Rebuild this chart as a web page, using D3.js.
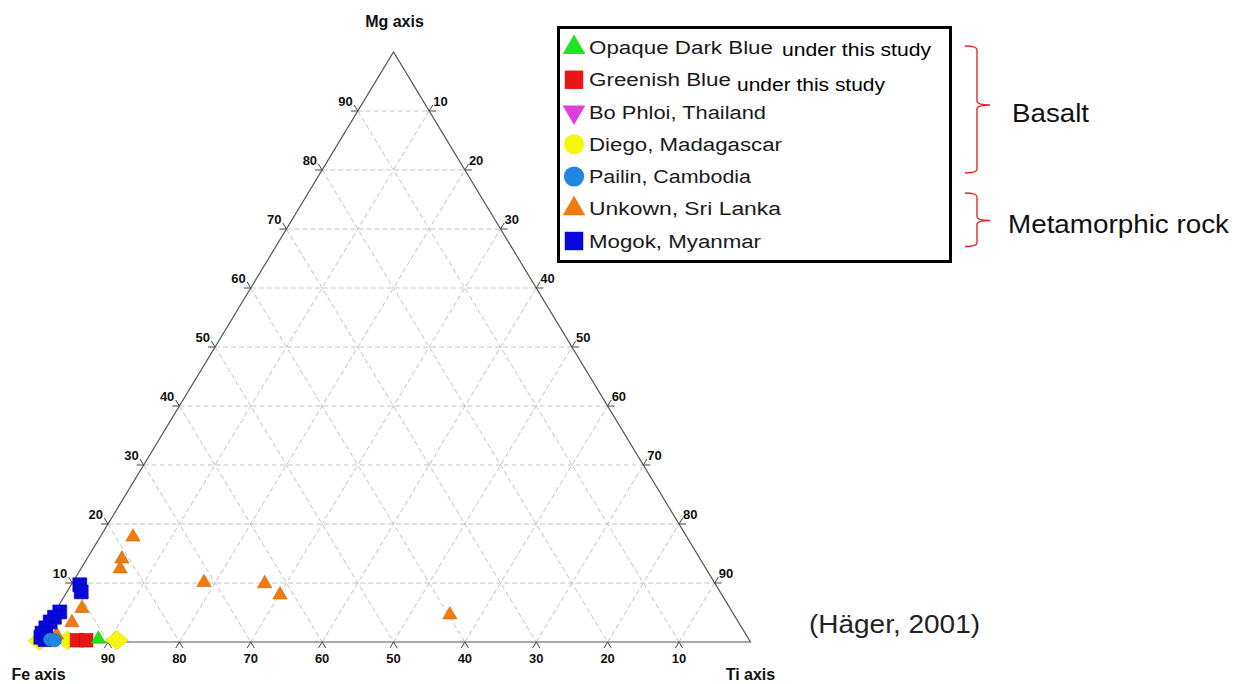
<!DOCTYPE html>
<html>
<head>
<meta charset="utf-8">
<script src="https://cdn.jsdelivr.net/npm/d3@7"></script>
<style>
  body { margin: 0; background: #fff; }
  svg { display: block; }
</style>
</head>
<body>
<svg id="chart" width="1248" height="684"></svg>
<script>
// Sample compositions, each as [Fe, Mg, Ti] in percent
const opaqueDarkBlue = [[91.1, 0.5, 8.4]];
const greenishBlue   = [[94.2, 0.3, 5.5], [92.9, 0.3, 6.8]];
const boPhloi        = [[97.9, 0.6, 1.5]];
const diego          = [[99.5, 0.2, 0.3], [95.5, 0.3, 4.2], [88.6, 0.3, 11.1]];
const pailin         = [[97.9, 0.4, 1.7], [97.3, 0.3, 2.4]];
const sriLanka       = [[77.6, 17.8, 4.6], [81.0, 14.1, 4.9], [82.1, 12.4, 5.5],
                        [71.5, 10.1, 18.4], [63.1, 9.9, 27.0], [61.9, 8.0, 30.1],
                        [39.8, 4.6, 55.6], [90.8, 5.7, 3.5], [93.4, 3.3, 3.3],
                        [96.6, 1.2, 2.2]];
const mogok          = [[89.1, 9.7, 1.2], [89.5, 8.5, 2.0], [94.2, 5.1, 0.7],
                        [95.4, 4.2, 0.4], [96.4, 3.4, 0.2], [97.5, 2.4, 0.1],
                        [98.5, 1.5, 0.0], [99.0, 0.8, 0.2], [98.6, 0.4, 1.0]];

const gridValues = [10, 20, 30, 40, 50, 60, 70, 80, 90];
const axisTitles = ["Fe axis", "Mg axis", "Ti axis"];

const legendLabels = ["Opaque Dark Blue", "Greenish Blue", "Bo Phloi, Thailand",
                      "Diego, Madagascar", "Pailin, Cambodia", "Unkown, Sri Lanka",
                      "Mogok, Myanmar"];
const legendNotes  = ["under this study", "under this study"];
const groupLabels  = ["Basalt", "Metamorphic rock"];
const sourceNote   = "(Häger, 2001)";

const svg = d3.select("#chart");

// Ternary layout: Mg drives the height, Ti (plus half of Mg) the horizontal offset
const yMg = d3.scaleLinear().domain([0, 100]).range([642, 52]);
const xBase = d3.scaleLinear().domain([0, 100]).range([36.6, 750.4]);
const project = ([fe, mg, ti]) => [xBase(ti + mg / 2), yMg(mg)];

const gGrid = svg.append("g");
const dashed = { stroke: "#c2c2c2", "stroke-width": 1, "stroke-dasharray": "5,3" };

function seg(g, a, b, attrs) {
  const p = project(a), q = project(b);
  const l = g.append("line").attr("x1", p[0]).attr("y1", p[1]).attr("x2", q[0]).attr("y2", q[1]);
  Object.entries(attrs).forEach(([k, v]) => l.attr(k, v));
  return l;
}

// Dashed grid lines parallel to each side
gridValues.forEach(v => {
  seg(gGrid, [100 - v, v, 0], [0, v, 100 - v], dashed);      // constant Mg
  seg(gGrid, [100 - v, 0, v], [0, 100 - v, v], dashed);      // constant Ti
  seg(gGrid, [v, 100 - v, 0], [v, 0, 100 - v], dashed);      // constant Fe
});

// Triangle outline
const corners = [[100, 0, 0], [0, 100, 0], [0, 0, 100]].map(project);
svg.append("path")
  .attr("d", d3.line()(corners) + "Z")
  .attr("fill", "none").attr("stroke", "#555").attr("stroke-width", 1.2);

// Tick marks: short outward extensions of the grid lines meeting each side
const tickLen = 7;
const gTicks = svg.append("g").attr("stroke", "#444").attr("stroke-width", 1);
function tickFrom(pt, toward) {
  const p = project(pt), q = project(toward);
  const dx = p[0] - q[0], dy = p[1] - q[1], d = Math.hypot(dx, dy);
  gTicks.append("line")
    .attr("x1", p[0]).attr("y1", p[1])
    .attr("x2", p[0] + dx / d * tickLen).attr("y2", p[1] + dy / d * tickLen);
}
gridValues.forEach(v => {
  // left side (Mg scale)
  tickFrom([100 - v, v, 0], [0, v, 100 - v]);
  tickFrom([100 - v, v, 0], [100 - v, 0, v]);
  // right side (Ti scale)
  tickFrom([0, 100 - v, v], [100 - v, 0, v]);
  tickFrom([0, 100 - v, v], [v, 100 - v, 0]);
  // base (Fe scale)
  tickFrom([v, 0, 100 - v], [v, 100 - v, 0]);
  tickFrom([v, 0, 100 - v], [0, v, 100 - v]);
});

// Tick labels
const gLab = svg.append("g")
  .style("font-family", "'Liberation Sans', Arial, sans-serif")
  .style("font-weight", "bold").style("font-size", "13px").attr("fill", "#111");
gridValues.forEach(v => {
  const l = project([100 - v, v, 0]);
  gLab.append("text").attr("x", l[0] - 5).attr("y", l[1] - 5)
    .attr("text-anchor", "end").text(v);
  const r = project([0, 100 - v, v]);
  gLab.append("text").attr("x", r[0] + 4).attr("y", r[1] - 5)
    .attr("text-anchor", "start").text(v);
  const b = project([v, 0, 100 - v]);
  gLab.append("text").attr("x", b[0]).attr("y", b[1] + 21)
    .attr("text-anchor", "middle").text(v);
});

// Axis titles at the vertices
const gTitle = svg.append("g")
  .style("font-family", "'Liberation Sans', Arial, sans-serif")
  .style("font-weight", "bold").style("font-size", "16px").attr("fill", "#111")
  .attr("text-anchor", "middle");
const feV = project([100, 0, 0]), mgV = project([0, 100, 0]), tiV = project([0, 0, 100]);
gTitle.append("text").attr("x", feV[0] + 2).attr("y", feV[1] + 38).text(axisTitles[0]);
gTitle.append("text").attr("x", mgV[0] + 1).attr("y", mgV[1] - 25).text(axisTitles[1]);
gTitle.append("text").attr("x", tiV[0]).attr("y", tiV[1] + 38).text(axisTitles[2]);

// Marker shapes
const wideDiamond = {
  draw(ctx, size) {
    const w = Math.sqrt(size) * 0.62, h = Math.sqrt(size) * 0.52;
    ctx.moveTo(-w, 0); ctx.lineTo(0, -h); ctx.lineTo(w, 0); ctx.lineTo(0, h); ctx.closePath();
  }
};
const invTriangle = {
  draw(ctx, size) {
    const s = Math.sqrt(size * 4 / Math.sqrt(3)), h = s * Math.sqrt(3) / 2;
    ctx.moveTo(-s / 2, -h / 3); ctx.lineTo(s / 2, -h / 3); ctx.lineTo(0, 2 * h / 3); ctx.closePath();
  }
};

const series = [
  { name: legendLabels[2], data: boPhloi,        type: invTriangle,        size: 90,  fill: "#dd3fdd", stroke: "#b02cb0" },
  { name: legendLabels[3], data: diego,          type: wideDiamond,        size: 340, fill: "#f6f60c", stroke: "#e0d800" },
  { name: legendLabels[1], data: greenishBlue,   type: d3.symbolSquare,    size: 185, fill: "#ea1616", stroke: "#c01010" },
  { name: legendLabels[0], data: opaqueDarkBlue, type: d3.symbolTriangle,  size: 90,  fill: "#1ee61e", stroke: "#14b814" },
  { name: legendLabels[5], data: sriLanka,       type: d3.symbolTriangle,  size: 88,  fill: "#f07c0e", stroke: "#d0600a" },
  { name: legendLabels[6], data: mogok,          type: d3.symbolSquare,    size: 195, fill: "#0808dc", stroke: "#0606b0" },
  { name: legendLabels[4], data: pailin,         type: d3.symbolCircle,    size: 140, fill: "#2186e0", stroke: "#1a6cc0" }
];

const gPts = svg.append("g");
series.forEach(s => {
  gPts.selectAll(null).data(s.data).join("path")
    .attr("transform", d => `translate(${project(d)})`)
    .attr("d", d3.symbol().type(s.type).size(s.size))
    .attr("fill", s.fill).attr("stroke", s.stroke).attr("stroke-width", 0.6);
});

// Legend box
const legend = svg.append("g");
legend.append("rect")
  .attr("x", 558.5).attr("y", 27.5).attr("width", 392).attr("height", 234)
  .attr("fill", "#fff").attr("stroke", "#000").attr("stroke-width", 3);

const legendOrder = [0, 1, 2, 3, 4, 5, 6];
const legendY = d3.scalePoint().domain(legendOrder).range([47.5, 241]);
const legendWidths = [184, 142, 177, 193, 162, 192, 172];
const legendStyle = {
  0: { type: d3.symbolTriangle, size: 220, fill: "#1ee61e" },
  1: { type: d3.symbolSquare,   size: 340, fill: "#ea1616" },
  2: { type: invTriangle,       size: 220, fill: "#dd3fdd" },
  3: { type: d3.symbolCircle,   size: 320, fill: "#f6f60c" },
  4: { type: d3.symbolCircle,   size: 320, fill: "#2186e0" },
  5: { type: d3.symbolTriangle, size: 220, fill: "#f07c0e" },
  6: { type: d3.symbolSquare,   size: 340, fill: "#0808dc" }
};
legendOrder.forEach(i => {
  const y = legendY(i), st = legendStyle[i];
  legend.append("path")
    .attr("transform", `translate(574,${y})`)
    .attr("d", d3.symbol().type(st.type).size(st.size))
    .attr("fill", st.fill);
  legend.append("text")
    .attr("x", 589).attr("y", y + 6.5)
    .attr("textLength", legendWidths[i]).attr("lengthAdjust", "spacingAndGlyphs")
    .style("font-family", "'Liberation Sans', Arial, sans-serif")
    .style("font-size", "18px").attr("fill", "#1a1a1a")
    .text(legendLabels[i]);
});
// Notes appended to the first two entries
[[782, 55.5, 149], [737, 91, 148]].forEach(([x, y, w], i) => {
  legend.append("text")
    .attr("x", x).attr("y", y)
    .attr("textLength", w).attr("lengthAdjust", "spacingAndGlyphs")
    .style("font-family", "'Liberation Sans', Arial, sans-serif")
    .style("font-size", "18px").attr("fill", "#000")
    .text(legendNotes[i]);
});

// Grouping braces and labels
function brace(y0, y1, yMid) {
  const x0 = 965, x1 = 977, xt = 990;
  return `M${x0},${y0} Q${x1},${y0} ${x1},${y0 + 4} L${x1},${yMid - 4} Q${x1},${yMid} ${xt},${yMid}` +
         ` Q${x1},${yMid} ${x1},${yMid + 4} L${x1},${y1 - 4} Q${x1},${y1} ${x0},${y1}`;
}
svg.append("path").attr("d", brace(46, 173, 105))
  .attr("fill", "none").attr("stroke", "#e8262a").attr("stroke-width", 1.4);
svg.append("path").attr("d", brace(193, 246.5, 220.5))
  .attr("fill", "none").attr("stroke", "#e8262a").attr("stroke-width", 1.4);

const gNote = svg.append("g")
  .style("font-family", "'Liberation Sans', Arial, sans-serif")
  .style("font-size", "25px").attr("fill", "#111");
gNote.append("text").attr("x", 1012).attr("y", 122)
  .attr("textLength", 77).attr("lengthAdjust", "spacingAndGlyphs").text(groupLabels[0]);
gNote.append("text").attr("x", 1008).attr("y", 233)
  .attr("textLength", 221).attr("lengthAdjust", "spacingAndGlyphs").text(groupLabels[1]);
gNote.append("text").attr("x", 809).attr("y", 633)
  .attr("textLength", 171).attr("lengthAdjust", "spacingAndGlyphs")
  .attr("fill", "#222").text(sourceNote);
</script>
</body>
</html>
